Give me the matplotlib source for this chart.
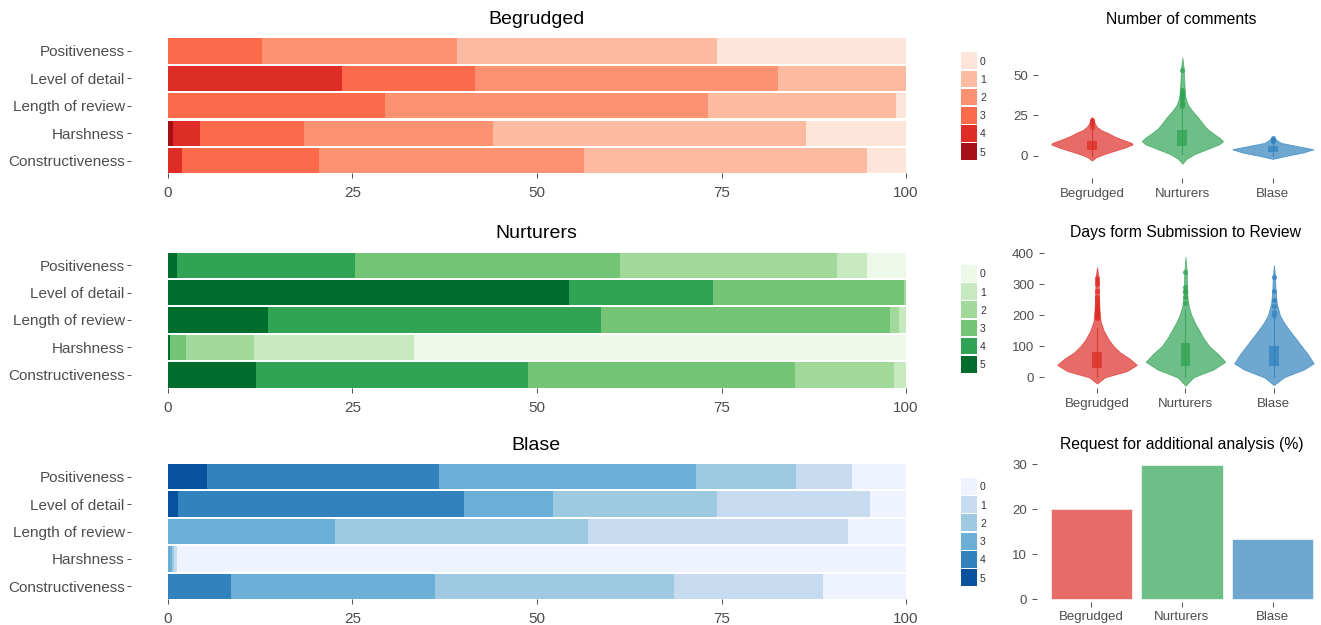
import numpy as np
import matplotlib
matplotlib.use('Agg')
import matplotlib.pyplot as plt

plt.rcParams['font.family'] = ['Liberation Sans', 'DejaVu Sans']

# 리뷰 항목과 점수 수준
aspects = ['Positiveness', 'Level of detail', 'Length of review', 'Harshness', 'Constructiveness']
levels = [0, 1, 2, 3, 4, 5]

# 그룹별 항목 점수 분포 (%) - 행: 항목, 열: 점수 0~5
begrudged_pct = [
    [25.6, 35.3, 26.3, 12.8, 0.0, 0.0],
    [0.0, 17.4, 41.0, 18.0, 23.6, 0.0],
    [1.3, 25.6, 43.7, 29.4, 0.0, 0.0],
    [13.5, 42.4, 25.6, 14.1, 3.7, 0.7],
    [5.3, 38.4, 35.8, 18.6, 1.9, 0.0],
]
nurturers_pct = [
    [5.3, 4.1, 29.3, 36.0, 24.1, 1.2],
    [0.0, 0.0, 0.3, 25.9, 19.4, 54.4],
    [0.0, 0.9, 1.3, 39.1, 45.1, 13.6],
    [66.6, 21.8, 9.1, 2.2, 0.0, 0.3],
    [0.0, 1.7, 13.3, 36.2, 36.8, 12.0],
]
blase_pct = [
    [7.3, 7.6, 13.6, 34.8, 31.4, 5.3],
    [4.9, 20.7, 22.3, 12.0, 38.8, 1.3],
    [7.9, 35.2, 34.3, 22.6, 0.0, 0.0],
    [98.8, 0.4, 0.3, 0.5, 0.0, 0.0],
    [11.2, 20.2, 32.4, 27.6, 8.6, 0.0],
]

groups = ['Begrudged', 'Nurturers', 'Blase']
group_colors = ['#DE2D26', '#31A354', '#3182BD']
reds = ['#fee5d9', '#fcbba1', '#fc9272', '#fb6a4a', '#de2d26', '#a50f15']
greens = ['#edf8e9', '#c7e9c0', '#a1d99b', '#74c476', '#31a354', '#006d2c']
blues = ['#eff3ff', '#c6dbef', '#9ecae1', '#6baed6', '#3182bd', '#08519c']

# 댓글 수 바이올린 (값, 상대 폭)
comments_y = [
    [-3, -1, 1, 3, 5, 7, 8, 10, 12, 14, 16, 18, 20, 22, 24],
    [-5, -2, 1, 4, 7, 9, 11, 14, 17, 20, 24, 28, 32, 36, 40, 45, 50, 55, 61],
    [-2, 0, 2, 4, 6, 8, 10, 12],
]
comments_w = [
    [0, 0.1, 0.3, 0.55, 0.8, 1.0, 0.97, 0.75, 0.55, 0.4, 0.22, 0.12, 0.07, 0.04, 0],
    [0, 0.1, 0.3, 0.6, 0.9, 1.0, 0.92, 0.75, 0.6, 0.5, 0.38, 0.24, 0.13, 0.08, 0.06, 0.05, 0.04, 0.03, 0],
    [0, 0.35, 0.75, 1.0, 0.6, 0.2, 0.08, 0],
]
comments_box = [[0, 3.5, 9, 16], [1, 6, 16, 30], [0, 2, 6, 10]]  # 하단 수염, Q1, Q3, 상단 수염
comments_out = [
    [18, 20, 21, 22],
    [31, 32, 33, 35, 36, 37, 38, 39, 40, 41, 53],
    [9, 10, 11],
]

# 제출부터 리뷰까지 걸린 일수 바이올린
days_y = [
    [-20, 0, 20, 40, 60, 80, 100, 120, 150, 180, 220, 260, 300, 330, 355],
    [-27, 0, 25, 50, 75, 100, 125, 150, 175, 200, 230, 260, 300, 340, 389],
    [-25, 0, 25, 45, 75, 100, 125, 150, 175, 200, 240, 280, 320, 362],
]
days_w = [
    [0, 0.2, 0.75, 1.0, 0.82, 0.58, 0.42, 0.3, 0.17, 0.09, 0.06, 0.05, 0.04, 0.03, 0],
    [0, 0.2, 0.7, 1.0, 0.82, 0.6, 0.46, 0.35, 0.24, 0.15, 0.08, 0.05, 0.04, 0.03, 0],
    [0, 0.25, 0.75, 1.0, 0.85, 0.7, 0.55, 0.4, 0.26, 0.15, 0.07, 0.04, 0.03, 0],
]
days_box = [[0, 31, 83, 160], [0, 37, 110, 218], [0, 37, 102, 198]]
days_out = [
    [190, 195, 200, 205, 210, 215, 220, 225, 230, 240, 250, 260, 280, 300, 310, 320],
    [240, 260, 275, 280, 290, 340],
    [200, 210, 230, 250, 280, 325],
]

# 추가 분석 요청 비율 (%)
request_pct = [20.0, 29.9, 13.3]

W, H = 1321, 625
fig = plt.figure(figsize=(W / 100, H / 100), dpi=100)


def px_axes(x0, y0, x1, y1):
    # 픽셀 좌표(좌상단 원점)로 축 생성
    return fig.add_axes([x0 / W, 1 - y1 / H, (x1 - x0) / W, (y1 - y0) / H])


def clean(ax):
    for s in ax.spines.values():
        s.set_visible(False)
    ax.tick_params(colors='#333333', labelcolor='#4D4D4D', length=3.5, width=0.6)


# 좌측: 그룹별 누적 막대
stack_specs = [
    ('Begrudged', begrudged_pct, reds, 38.3, 173.3, 20, 51.7, 160.7),
    ('Nurturers', nurturers_pct, greens, 252.5, 387.5, 233, 264.3, 373.3),
    ('Blase', blase_pct, blues, 464, 599, 445, 477.3, 586.7),
]
for title, pct, pal, top, bot, ty, lt, lb in stack_specs:
    ax = px_axes(131, top, 943, bot)
    pct = np.array(pct)
    ypos = np.arange(len(aspects))[::-1]
    left = np.zeros(len(aspects))
    for lv in levels[::-1]:
        ax.barh(ypos, pct[:, lv], left=left, height=0.926, color=pal[lv], linewidth=0)
        left += pct[:, lv]
    ax.set_xlim(-5, 105)
    ax.set_ylim(-0.463, 4.463)
    ax.set_yticks(ypos)
    ax.set_yticklabels(aspects, fontsize=11)
    ax.set_xticks([0, 25, 50, 75, 100])
    ax.set_xticklabels(['0', '25', '50', '75', '100'], fontsize=11)
    clean(ax)
    ax.tick_params(axis='x', pad=6)
    ax.tick_params(axis='y', pad=1.5, length=3)
    fig.text(536 / W, 1 - ty / H, title, ha='center', va='center', fontsize=14)

    # 점수 범례
    lax = px_axes(961, lt, 977.3, lb)
    lax.barh(levels, [1] * len(levels), height=0.92, color=pal, linewidth=0)
    lax.set_xlim(0, 1)
    lax.set_ylim(5.5, -0.5)
    lax.set_xticks([])
    lax.set_yticks(levels)
    lax.set_yticklabels([str(v) for v in levels], fontsize=7.5)
    lax.yaxis.tick_right()
    lax.tick_params(axis='y', length=0, pad=2, labelcolor='#333333')
    for s in lax.spines.values():
        s.set_visible(False)


def violins(ax, ys, ws, boxes, outs):
    for i, c in enumerate(group_colors):
        x = i + 1
        y = np.array(ys[i])
        w = np.array(ws[i]) * 0.45
        ax.fill_betweenx(y, x - w, x + w, color=c, alpha=0.7, linewidth=0.6)
        lo, q1, q3, hi = boxes[i]
        ax.plot([x, x], [lo, hi], color=c, lw=0.8, alpha=0.8)
        ax.bar(x, q3 - q1, bottom=q1, width=0.11, color=c, alpha=0.75, linewidth=0)
        ax.scatter([x] * len(outs[i]), outs[i], s=14, color=c, alpha=0.75, linewidths=0)
    ax.set_xlim(0.4, 3.6)
    ax.set_xticks([1, 2, 3])
    ax.set_xticklabels(groups, fontsize=9.5)
    clean(ax)


# 우측 상단: 댓글 수
ax1 = px_axes(1037.7, 35, 1327, 178)
violins(ax1, comments_y, comments_w, comments_box, comments_out)
ax1.set_ylim((155.7 - 178) / 1.61, (155.7 - 35) / 1.61)
ax1.set_yticks([0, 25, 50])
ax1.tick_params(axis='y', labelsize=9.5)
fig.text(1181 / W, 1 - 20 / H, 'Number of comments', ha='center', va='center', fontsize=11.3)

# 우측 중간: 제출~리뷰 일수
ax2 = px_axes(1044, 245, 1327, 388)
violins(ax2, days_y, days_w, days_box, days_out)
ax2.set_ylim((377.3 - 388) / 0.31, (377.3 - 245) / 0.31)
ax2.set_yticks([0, 100, 200, 300, 400])
ax2.tick_params(axis='y', labelsize=9.5)
fig.text(1185 / W, 1 - 232 / H, 'Days form Submission to Review', ha='center', va='center', fontsize=11.3)

# 우측 하단: 추가 분석 요청 비율
ax3 = px_axes(1037, 457, 1327, 601.5)
ax3.bar([1, 2, 3], request_pct, width=0.9, color=group_colors, alpha=0.7,
        edgecolor='white', linewidth=0.6)
ax3.set_xlim(0.4, 3.6)
ax3.set_ylim((599 - 601.5) / 4.49, (599 - 457) / 4.49)
ax3.set_xticks([1, 2, 3])
ax3.set_xticklabels(groups, fontsize=9.5)
ax3.set_yticks([0, 10, 20, 30])
clean(ax3)
ax3.tick_params(axis='y', labelsize=9.5)
fig.text(1182 / W, 1 - 445 / H, 'Request for additional analysis (%)', ha='center', va='center', fontsize=11.3)

fig.savefig('out.png', dpi=100)
